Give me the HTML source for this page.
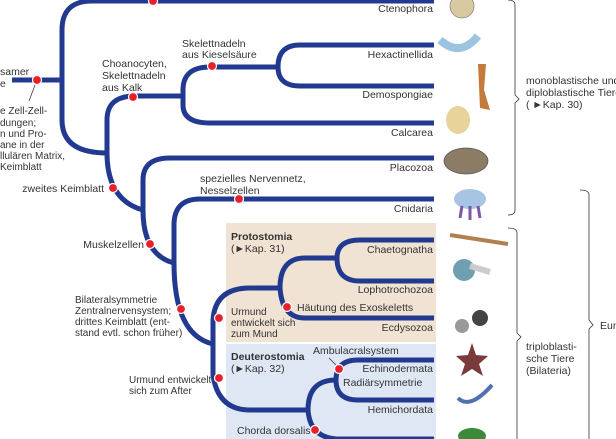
<!DOCTYPE html>
<html><head><meta charset="utf-8"><style>
body{margin:0;background:#fff;}
svg{display:block;}
text{font-family:"Liberation Sans",sans-serif;font-size:10.5px;fill:#333;}
.s{font-size:10px;}
</style></head><body>
<svg width="616" height="439" viewBox="0 0 616 439" xmlns="http://www.w3.org/2000/svg">
<rect x="226" y="223" width="210" height="119" fill="#f0e3d4"/>
<rect x="226" y="344" width="210" height="95" fill="#dfe7f4"/>
<g fill="none" stroke="#213a8f" stroke-width="5" stroke-linecap="butt">
<path d="M12 80 H62"/>
<path d="M62 80 V30 Q62 1 92 1 H434"/>
<path d="M62 80 V120 Q62 153 107 153"/>
<path d="M107 153 V120 Q107 96 135 96 H183"/>
<path d="M183 96 V90 Q183 67 210 67 H278"/>
<path d="M183 96 V105 Q183 123 210 123 H434"/>
<path d="M278 67 Q278 45 300 45 H434"/>
<path d="M278 67 Q278 86 300 86 H434"/>
<path d="M107 153 Q107 200 143 210"/>
<path d="M143 210 V180 Q143 158 170 158 H434"/>
<path d="M143 210 Q143 255 174 263"/>
<path d="M174 263 V225 Q174 199 200 199 H434"/>
<path d="M174 263 Q174 335 213 344"/>
<path d="M213 344 V320 Q215 288 250 288 H280"/>
<path d="M280 288 Q280 258 305 258 H337"/>
<path d="M337 258 Q337 240 360 240 H434"/>
<path d="M337 258 Q337 281 360 281 H434"/>
<path d="M280 288 Q282 318 305 318 H434"/>
<path d="M213 344 V375 Q218 410 250 410 H308"/>
<path d="M308 410 Q308 380 336 380"/>
<path d="M336 380 Q336 360 358 360 H434"/>
<path d="M336 380 Q336 400 358 400 H434"/>
<path d="M308 410 Q310 439 340 439 H434"/>
</g>
<g fill="#e8202a" stroke="#fff" stroke-width="1.2">
<circle cx="37" cy="80" r="4.5"/><circle cx="153" cy="1" r="4.5"/>
<circle cx="133" cy="97" r="4.5"/><circle cx="212" cy="66" r="4.5"/>
<circle cx="113" cy="188" r="4.5"/><circle cx="239" cy="199" r="4.5"/>
<circle cx="150" cy="244" r="4.5"/><circle cx="181" cy="309" r="4.5"/>
<circle cx="219" cy="318" r="4.5"/><circle cx="287" cy="307" r="4.5"/>
<circle cx="219" cy="378" r="4.5"/><circle cx="339" cy="369" r="4.5"/>
<circle cx="315" cy="430" r="4.5"/>
</g>
<g stroke="#333" stroke-width="0.8" fill="none">
<path d="M35 85 L29 101"/><path d="M329 358 L336 365"/>
<path d="M508 0 Q515 0 515 5 V95 L519 99 L515 103 V210 Q515 215 508 215"/>
<path d="M508 228 Q517 228 517 233 V333 L521 337 L517 341 V439"/>
<path d="M580 190 Q589 190 589 195 V320 L593 325 L589 329 V439"/>
</g>
<g text-anchor="end">
<text x="433" y="12">Ctenophora</text>
<text x="433" y="58">Hexactinellida</text>
<text x="433" y="98">Demospongiae</text>
<text x="433" y="136">Calcarea</text>
<text x="433" y="171">Placozoa</text>
<text x="433" y="212">Cnidaria</text>
<text x="433" y="253">Chaetognatha</text>
<text x="433" y="293">Lophotrochozoa</text>
<text x="433" y="331">Ecdysozoa</text>
<text x="433" y="372">Echinodermata</text>
<text x="433" y="413">Hemichordata</text>
<text x="104" y="192">zweites Keimblatt</text>
<text x="144" y="248">Muskelzellen</text>
</g>
<text x="0" y="75">samer</text><text x="0" y="87">e</text>
<text class="s" x="0" y="114">e Zell-Zell-</text><text class="s" x="0" y="126">dungen;</text>
<text class="s" x="0" y="137">n und Pro-</text><text class="s" x="0" y="148">ane in der</text>
<text class="s" x="0" y="159">llulären Matrix,</text><text class="s" x="0" y="170">Keimblatt</text>
<text x="102" y="67">Choanocyten,</text><text x="102" y="79">Skelettnadeln</text><text x="102" y="91">aus Kalk</text>
<text x="182" y="47">Skelettnadeln</text><text x="182" y="58">aus Kieselsäure</text>
<text x="200" y="182">spezielles Nervennetz,</text><text x="200" y="194">Nesselzellen</text>
<text class="s" x="75" y="303">Bilateralsymmetrie</text><text class="s" x="75" y="314">Zentralnervensystem;</text>
<text class="s" x="75" y="325">drittes Keimblatt (ent-</text><text class="s" x="75" y="336">stand evtl. schon früher)</text>
<text class="s" x="129" y="383">Urmund entwickelt</text><text class="s" x="129" y="394">sich zum After</text>
<text x="231" y="240" style="font-weight:bold">Protostomia</text><text x="231" y="252">(►Kap. 31)</text>
<text class="s" x="231" y="315">Urmund</text><text class="s" x="231" y="326">entwickelt sich</text><text class="s" x="231" y="337">zum Mund</text>
<text x="297" y="311">Häutung des Exoskeletts</text>
<text x="231" y="360" style="font-weight:bold">Deuterostomia</text><text x="231" y="372">(►Kap. 32)</text>
<text x="313" y="354">Ambulacralsystem</text>
<text x="343" y="386">Radiärsymmetrie</text>
<text x="237" y="434">Chorda dorsalis</text>
<text x="526" y="84">monoblastische und</text><text x="526" y="96">diploblastische Tiere</text><text x="526" y="108">( ►Kap. 30)</text>
<text x="526" y="350">triploblasti-</text><text x="526" y="362">sche Tiere</text><text x="526" y="374">(Bilateria)</text>
<text x="600" y="329">Eum</text>
<g>
<ellipse cx="462" cy="6" rx="12" ry="12" fill="#d8c9a0" stroke="#888" stroke-width="0.8"/>
<path d="M440 40 Q460 58 478 36" stroke="#9cc4e0" stroke-width="8" fill="none"/>
<path d="M478 64 L486 64 L484 90 L490 110 L480 108 Z" fill="#c47a3a"/>
<ellipse cx="458" cy="120" rx="12" ry="14" fill="#e8d39a"/>
<ellipse cx="466" cy="161" rx="22" ry="13" fill="#8c7c66" stroke="#555" stroke-width="0.8"/>
<ellipse cx="470" cy="199" rx="16" ry="10" fill="#a8c4e4"/><path d="M462 206 L460 218 M470 206 L470 220 M478 206 L480 218" stroke="#7a5aa8" stroke-width="3"/>
<path d="M450 235 L508 244" stroke="#b08050" stroke-width="4"/>
<circle cx="464" cy="270" r="11" fill="#6fa0b0"/><path d="M470 266 L490 272" stroke="#ccc" stroke-width="6"/>
<circle cx="462" cy="326" r="7" fill="#999"/><circle cx="480" cy="318" r="8" fill="#444"/>
<path d="M472 343 L476 355 L488 356 L479 364 L483 376 L472 369 L461 376 L465 364 L456 356 L468 355 Z" fill="#7a3a3a"/>
<path d="M458 398 Q470 410 492 385" stroke="#5070b0" stroke-width="4" fill="none"/>
<ellipse cx="472" cy="436" rx="14" ry="8" fill="#3a8a3a"/>
</g>
</svg>
</body></html>
